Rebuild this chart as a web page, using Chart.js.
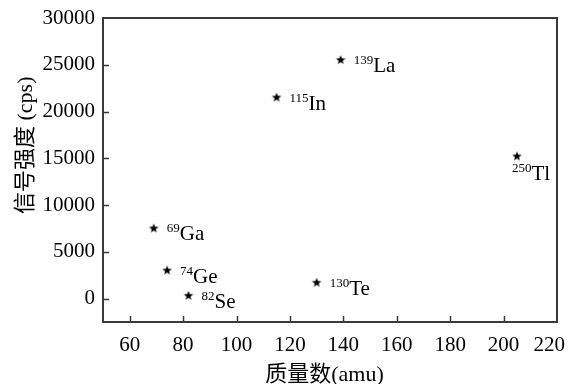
<!DOCTYPE html>
<html>
<head>
<meta charset="utf-8">
<script src="https://cdn.jsdelivr.net/npm/chart.js@4"></script>
<style>
  html, body { margin: 0; padding: 0; background: #fff; }
  #wrap { width: 569px; height: 384px; }
</style>
</head>
<body>
<div id="wrap"><canvas id="mycanvas" width="569" height="384"></canvas></div>
<script>
const masses = [69, 74, 82, 115, 139, 130, 205];
const signals = [7500, 3000, 300, 21500, 25500, 1700, 15200];
const isotopes = ['69', '74', '82', '115', '139', '130', '250'];
const elements = ['Ga', 'Ge', 'Se', 'In', 'La', 'Te', 'Tl'];
const xTicks = [60, 80, 100, 120, 140, 160, 180, 200, 220];
const yTicks = [0, 5000, 10000, 15000, 20000, 25000, 30000];

const serif = "'Liberation Serif', 'Noto Sans CJK SC', serif";
const axisColor = '#3a3a3a';
const nb = '\u00a0';

Chart.defaults.font.family = serif;
Chart.defaults.font.size = 21;
Chart.defaults.color = '#000';

// filled five point star for the markers
const makeStar = function (r) {
    const c = document.createElement('canvas');
    const s = r * 2 + 2;
    c.width = s; c.height = s;
    const g = c.getContext('2d');
    g.beginPath();
    for (let k = 0; k < 10; k++) {
        const a = -Math.PI / 2 + k * Math.PI / 5;
        const rr = k % 2 === 0 ? r : r * 0.42;
        g.lineTo(s / 2 + rr * Math.cos(a), s / 2 + rr * Math.sin(a));
    }
    g.closePath();
    g.fillStyle = '#000';
    g.fill();
    return c;
};
const star = makeStar(5);

const points = masses.map((m, i) => ({x: m, y: signals[i]}));

const frame = {
    id: 'frame',
    afterDraw(chart) {
        const ctx = chart.ctx;
        const a = chart.chartArea;
        const xs = chart.scales.x, ys = chart.scales.y;
        ctx.save();
        ctx.strokeStyle = axisColor;
        ctx.lineWidth = 2;
        ctx.strokeRect(a.left, a.top, a.right - a.left, a.bottom - a.top);
        ctx.lineWidth = 1.5;
        ctx.beginPath();
        xTicks.forEach(v => {
            if (v >= 220) return;
            const px = Math.round(xs.getPixelForValue(v)) + 0.5;
            ctx.moveTo(px, a.bottom);
            ctx.lineTo(px, a.bottom - 6);
        });
        yTicks.forEach(v => {
            if (v >= 30000) return;
            const py = Math.round(ys.getPixelForValue(v)) + 0.5;
            ctx.moveTo(a.left, py);
            ctx.lineTo(a.left + 6, py);
        });
        ctx.stroke();

        // point labels with superscript mass numbers
        ctx.fillStyle = '#000';
        ctx.textBaseline = 'alphabetic';
        masses.forEach((m, i) => {
            const px = xs.getPixelForValue(m);
            const py = ys.getPixelForValue(signals[i]);
            let lx = px + 13, ly = py + 12;
            if (elements[i] === 'Tl') { lx = px - 5; ly = py + 24; }
            ctx.font = '13px ' + serif;
            ctx.fillText(isotopes[i], lx, ly - 8);
            const w = ctx.measureText(isotopes[i]).width;
            ctx.font = '21px ' + serif;
            ctx.fillText(elements[i], lx + w, ly);
        });
        ctx.restore();
    }
};

const ctx = document.getElementById('mycanvas').getContext('2d');
const myChart = new Chart(ctx, {
    type: 'scatter',
    data: {
        datasets: [{
            label: 'signal',
            data: points,
            pointStyle: star,
            backgroundColor: '#000',
            borderColor: '#000'
        }]
    },
    options: {
        responsive: false,
        animation: false,
        layout: {padding: {top: 18, right: 12, left: 0, bottom: 0}},
        plugins: {legend: {display: false}, tooltip: {enabled: false}},
        scales: {
            x: {
                type: 'linear',
                min: 50,
                max: 220,
                afterBuildTicks: s => { s.ticks = xTicks.map(v => ({value: v})); },
                afterFit: s => { s.height = 62; s.paddingRight = 0; s.paddingLeft = 0; },
                grid: {display: false, drawTicks: false},
                border: {display: false},
                ticks: {padding: 11, maxRotation: 0,
                        callback: v => v === 220 ? '220' + nb + nb + nb : String(v)},
                title: {display: true, text: '质量数(amu)' + nb + nb,
                        font: {size: 22, lineHeight: 1}, padding: {top: 0, bottom: -2}}
            },
            y: {
                min: -2500,
                max: 30000,
                afterBuildTicks: s => { s.ticks = yTicks.map(v => ({value: v})); },
                afterFit: s => { s.width = 103; s.paddingTop = 0; s.paddingBottom = 0; },
                grid: {display: false, drawTicks: false},
                border: {display: false},
                ticks: {padding: 8, callback: v => String(v)},
                title: {display: true, text: nb.repeat(9) + '信号强度 (cps)',
                        font: {size: 22}, padding: {top: 13, bottom: 0}}
            }
        }
    },
    plugins: [frame]
});
</script>
</body>
</html>
